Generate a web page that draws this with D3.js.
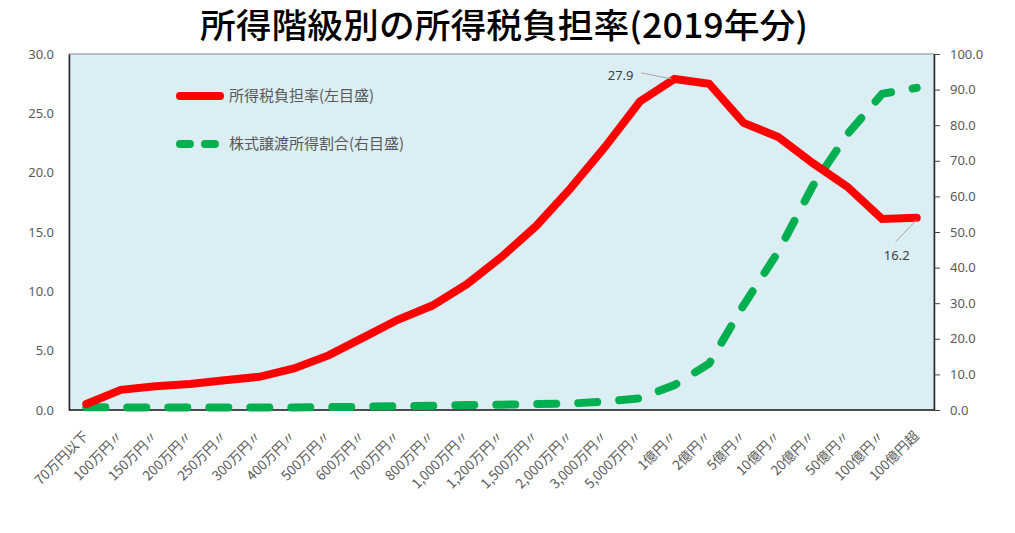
<!DOCTYPE html>
<html>
<head>
<meta charset="utf-8">
<script src="https://cdn.jsdelivr.net/npm/d3@7"></script>
<style>
  body { margin: 0; background: #fff; }
  text { font-family: "Noto Sans CJK JP", "Noto Sans", sans-serif; }
</style>
</head>
<body>
<script>
// データ
var categories = ["70万円以下", "100万円〃", "150万円〃", "200万円〃", "250万円〃", "300万円〃",
  "400万円〃", "500万円〃", "600万円〃", "700万円〃", "800万円〃", "1,000万円〃", "1,200万円〃",
  "1,500万円〃", "2,000万円〃", "3,000万円〃", "5,000万円〃", "1億円〃", "2億円〃", "5億円〃",
  "10億円〃", "20億円〃", "50億円〃", "100億円〃", "100億円超"];
var taxRate = [0.5, 1.7, 2.0, 2.2, 2.5, 2.8, 3.5, 4.6, 6.1, 7.6, 8.8, 10.6, 12.9,
  15.5, 18.7, 22.2, 26.0, 27.9, 27.5, 24.2, 23.0, 20.8, 18.8, 16.1, 16.2];
var stockShare = [0.8, 0.7, 0.7, 0.7, 0.7, 0.7, 0.7, 0.8, 0.9, 1.1, 1.2, 1.4, 1.5,
  1.7, 1.8, 2.4, 3.3, 7.0, 13.0, 29.5, 44.5, 63.0, 77.5, 88.8, 90.5];
var leftTicks = [0, 5, 10, 15, 20, 25, 30];
var rightTicks = [0, 10, 20, 30, 40, 50, 60, 70, 80, 90, 100];
var seriesNames = ["所得税負担率(左目盛)", "株式譲渡所得割合(右目盛)"];
var title = "所得階級別の所得税負担率(2019年分)";

var W = 1015, H = 533;
var plotL = 69, plotR = 934, plotT = 54, plotB = 410;

var svg = d3.select("body").append("svg")
    .attr("width", W)
    .attr("height", H);

// タイトル
svg.append("text")
    .attr("x", 504)
    .attr("y", 38)
    .attr("text-anchor", "middle")
    .attr("textLength", 608)
    .attr("lengthAdjust", "spacingAndGlyphs")
    .style("font-size", "34px")
    .style("font-weight", 500)
    .style("fill", "#000")
    .text(title);

var x = d3.scaleBand().domain(categories).range([plotL, plotR]);
var cx = function(i) { return x(categories[i]) + x.bandwidth() / 2; };
var yL = d3.scaleLinear().domain([0, 30]).range([plotB, plotT]);
var yR = d3.scaleLinear().domain([0, 100]).range([plotB, plotT]);

// プロットエリア
svg.append("rect")
    .attr("x", plotL)
    .attr("y", plotT)
    .attr("width", plotR - plotL)
    .attr("height", plotB - plotT)
    .style("fill", "#DAEEF3")
    .style("stroke", "#8c8c8c")
    .style("stroke-width", 1);

// 左軸
var gL = svg.append("g")
    .attr("transform", "translate(" + plotL + ",0)")
    .call(d3.axisLeft(yL).tickValues(leftTicks).tickFormat(d3.format(".1f")).tickSize(0).tickPadding(15));
gL.select(".domain").style("stroke", "#262626").style("stroke-width", 1.5);

// 右軸
var gR = svg.append("g")
    .attr("transform", "translate(" + plotR + ",0)")
    .call(d3.axisRight(yR).tickValues(rightTicks).tickFormat(d3.format(".1f")).tickSize(6).tickSizeOuter(0).tickPadding(10));
gR.select(".domain").style("stroke", "#262626").style("stroke-width", 1.5);
gR.selectAll(".tick line").style("stroke", "#404040");

svg.selectAll(".tick text")
    .style("font-size", "13px")
    .style("font-family", "'Noto Sans', sans-serif")
    .style("fill", "#595959");

// 下軸
svg.append("line")
    .attr("x1", plotL).attr("x2", plotR)
    .attr("y1", plotB).attr("y2", plotB)
    .style("stroke", "#262626")
    .style("stroke-width", 1.5);

// X軸ラベル
svg.append("g").selectAll("text")
    .data(categories)
    .enter().append("text")
    .attr("transform", function(d, i) { return "translate(" + (cx(i) + 3) + ",437) rotate(-45)"; })
    .attr("text-anchor", "end")
    .style("font-size", "13.5px")
    .style("fill", "#595959")
    .text(function(d) { return d; });

// 株式譲渡所得割合（緑の破線）
var lineR = d3.line()
    .x(function(d, i) { return cx(i); })
    .y(function(d) { return yR(d); });
svg.append("path")
    .datum(stockShare)
    .attr("d", lineR)
    .style("fill", "none")
    .style("stroke", "#00B050")
    .style("stroke-width", 8)
    .style("stroke-linecap", "round")
    .style("stroke-dasharray", "19,22");

// 所得税負担率（赤）
var lineL = d3.line()
    .x(function(d, i) { return cx(i); })
    .y(function(d) { return yL(d); });
svg.append("path")
    .datum(taxRate)
    .attr("d", lineL)
    .style("fill", "none")
    .style("stroke", "#FF0000")
    .style("stroke-width", 8)
    .style("stroke-linecap", "round");

// データラベル
var i1 = 17, i2 = 24;
svg.append("line")
    .attr("x1", cx(i1) - 33).attr("y1", yL(taxRate[i1]) - 6)
    .attr("x2", cx(i1) - 3).attr("y2", yL(taxRate[i1]))
    .style("stroke", "#a6a6a6").style("stroke-width", 1);
svg.append("text")
    .attr("x", cx(i1) - 41)
    .attr("y", yL(taxRate[i1]) + 1)
    .attr("text-anchor", "end")
    .style("font-size", "13px")
    .style("font-family", "'Noto Sans', sans-serif")
    .style("fill", "#404040")
    .text(taxRate[i1].toFixed(1));

svg.append("line")
    .attr("x1", cx(i2) - 21).attr("y1", yL(taxRate[i2]) + 24)
    .attr("x2", cx(i2)).attr("y2", yL(taxRate[i2]) + 2)
    .style("stroke", "#a6a6a6").style("stroke-width", 1);
svg.append("text")
    .attr("x", cx(i2) - 20)
    .attr("y", yL(taxRate[i2]) + 42)
    .attr("text-anchor", "middle")
    .style("font-size", "13px")
    .style("font-family", "'Noto Sans', sans-serif")
    .style("fill", "#404040")
    .text(taxRate[i2].toFixed(1));

// 凡例
var legend = svg.append("g");
legend.append("line")
    .attr("x1", 180).attr("x2", 220)
    .attr("y1", 96).attr("y2", 96)
    .style("stroke", "#FF0000")
    .style("stroke-width", 8)
    .style("stroke-linecap", "round");
legend.append("line")
    .attr("x1", 180).attr("x2", 220)
    .attr("y1", 144).attr("y2", 144)
    .style("stroke", "#00B050")
    .style("stroke-width", 8)
    .style("stroke-linecap", "round")
    .style("stroke-dasharray", "10,15");
legend.selectAll("text")
    .data(seriesNames)
    .enter().append("text")
    .attr("x", 229)
    .attr("y", function(d, i) { return 101 + i * 48; })
    .style("font-size", "15px")
    .style("fill", "#595959")
    .text(function(d) { return d; });
</script>
</body>
</html>
